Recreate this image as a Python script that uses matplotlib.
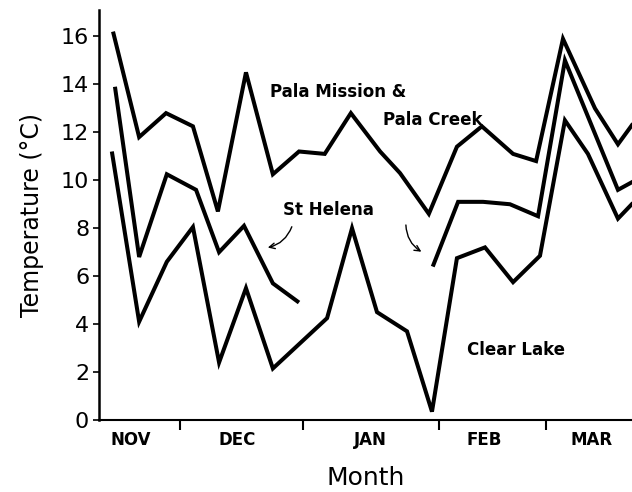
import numpy as np
import matplotlib
matplotlib.use('Agg')
import matplotlib.pyplot as plt

# days counted from the left edge of the axis
pala_x = [3.6, 10.3, 17.2, 24.1, 30.5, 37.7, 44.6, 51.3, 57.9, 64.6, 72.1,
          77.2, 84.6, 91.8, 98.2, 106.2, 112.1, 119.0, 127.2, 133.1, 138.7]
pala_t = [16.2, 11.8, 12.8, 12.25, 8.7, 14.5, 10.25, 11.2, 11.1, 12.8, 11.2,
          10.3, 8.6, 11.4, 12.25, 11.1, 10.8, 15.9, 13.0, 11.5, 12.75]

# St Helena has a gap in January (nan breaks the line)
helena_x = [4.1, 10.3, 17.4, 24.9, 30.8, 37.2, 44.6, 51.3, np.nan,
            85.6, 92.1, 98.5, 105.4, 112.6, 119.5, 133.1, 138.7]
helena_t = [13.9, 6.8, 10.25, 9.6, 7.0, 8.1, 5.7, 4.9, np.nan,
            6.4, 9.1, 9.1, 9.0, 8.5, 15.0, 9.6, 10.1]

clear_x = [3.3, 10.3, 17.4, 24.1, 30.8, 37.7, 44.6, 58.5, 64.9, 71.3,
           79.0, 85.4, 91.8, 99.0, 106.2, 113.1, 119.5, 125.4, 133.1, 138.7]
clear_t = [11.2, 4.1, 6.6, 8.05, 2.4, 5.5, 2.15, 4.25, 8.0, 4.5,
           3.7, 0.35, 6.75, 7.2, 5.75, 6.85, 12.5, 11.1, 8.4, 9.35]

month_edges = [20.8, 52.3, 87.2, 114.6]
month_centers = [8.2, 35.4, 69.7, 98.7, 126.4]
month_labels = ['NOV', 'DEC', 'JAN', 'FEB', 'MAR']

fig = plt.figure(figsize=(6.32, 4.92), dpi=100)
ax = fig.add_axes([0.1566, 0.1463, 0.8434, 0.8333])

lw = 2.9
for x, t in [(pala_x, pala_t), (helena_x, helena_t), (clear_x, clear_t)]:
    ax.plot(x, t, color='black', lw=lw, solid_capstyle='butt',
            solid_joinstyle='miter')

ax.set_xlim(0, 136.7)
ax.set_ylim(0, 17.1)

for s in ['top', 'right']:
    ax.spines[s].set_visible(False)
ax.spines['left'].set_linewidth(1.8)
ax.spines['bottom'].set_linewidth(1.5)

ax.set_yticks(range(0, 17, 2))
ax.tick_params(axis='y', direction='out', length=4, width=1.2,
               labelsize=16, pad=3)

ax.set_xticks(month_edges)
ax.set_xticklabels([])
ax.set_xticks(month_centers, minor=True)
ax.set_xticklabels(month_labels, minor=True, fontsize=12, fontweight='bold')
ax.tick_params(axis='x', which='major', direction='out', length=7, width=1.5)
ax.tick_params(axis='x', which='minor', length=0, pad=8)

ax.set_ylabel('Temperature (°C)', fontsize=17, labelpad=12)
ax.set_xlabel('Month', fontsize=18, labelpad=12)

tkw = dict(fontsize=12, fontweight='bold', va='center', ha='left')
ax.text(43.8, 13.67, 'Pala Mission &', **tkw)
ax.text(72.8, 12.5, 'Pala Creek', **tkw)
ax.text(47.2, 8.75, 'St Helena', **tkw)
ax.text(94.4, 2.9, 'Clear Lake', **tkw)

akw = dict(arrowstyle='->', lw=1.0, color='black', mutation_scale=10)
ax.annotate('', xy=(42.6, 7.17), xytext=(49.7, 8.17),
            arrowprops=dict(connectionstyle='arc3,rad=-0.3', **akw))
ax.annotate('', xy=(83.3, 6.96), xytext=(78.7, 8.25),
            arrowprops=dict(connectionstyle='arc3,rad=0.3', **akw))

fig.savefig('out.png', dpi=100)
